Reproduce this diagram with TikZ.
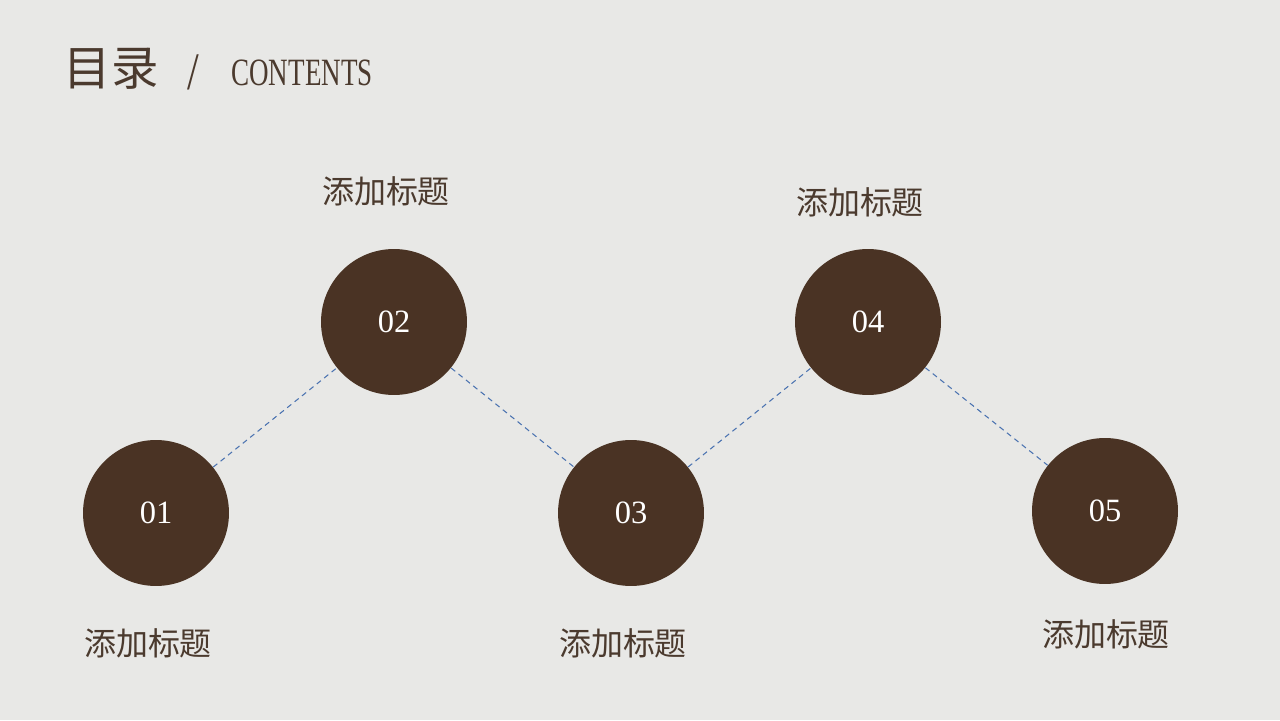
\documentclass[tikz,border=0pt]{standalone}
\usepackage{fontspec}
\usepackage{graphicx}
\setmainfont{Liberation Serif}
\newfontfamily\cjk{Noto Sans CJK SC}
\usetikzlibrary{positioning}
\definecolor{paper}{HTML}{E8E8E6}
\definecolor{coffee}{HTML}{4A3324}
\definecolor{inkbrown}{HTML}{4B3A2E}
\definecolor{linkblue}{HTML}{4A72B0}

\begin{document}
\begin{tikzpicture}[x=0.02cm, y=0.02cm,
    dot/.style={circle, fill=coffee, minimum size=2.92cm, inner sep=0pt, text=white, font=\fontsize{18.5}{20}\selectfont},
    caption/.style={text=inkbrown, font=\cjk\fontsize{18.2}{20}\selectfont},
    link/.style={draw=linkblue, line width=0.6pt, dash pattern=on 3pt off 2.4pt}
]

% Background
\fill[paper] (0,0) rectangle (1280,720);

% Title
\node[text=inkbrown, font=\cjk\fontsize{27}{30}\selectfont] (title) at (111,651) {目录};
\node[text=inkbrown, font=\fontsize{30}{32}\selectfont] (slash) at (193,648) {\scalebox{0.8}[1]{/}};
\node[text=inkbrown, font=\fontsize{22}{26}\selectfont] (contents) at (302,647) {\scalebox{0.7}[1]{CONTENTS}};

% Circles
\node[dot] (c1) at (156,207) {01};
\node[dot] (c2) at (394,398) {02};
\node[dot] (c3) at (631,207) {03};
\node[dot] (c4) at (868,398) {04};
\node[dot] (c5) at (1105,209) {05};

% Dashed links
\draw[link] (c1) -- (c2);
\draw[link] (c2) -- (c3);
\draw[link] (c3) -- (c4);
\draw[link] (c4) -- (c5);

% Captions
\node[caption] (t1) at (148,77) {添加标题};
\node[caption] (t2) at (386,529) {添加标题};
\node[caption] (t3) at (623,77) {添加标题};
\node[caption] (t4) at (860,518) {添加标题};
\node[caption] (t5) at (1106,86) {添加标题};

\end{tikzpicture}
\end{document}
